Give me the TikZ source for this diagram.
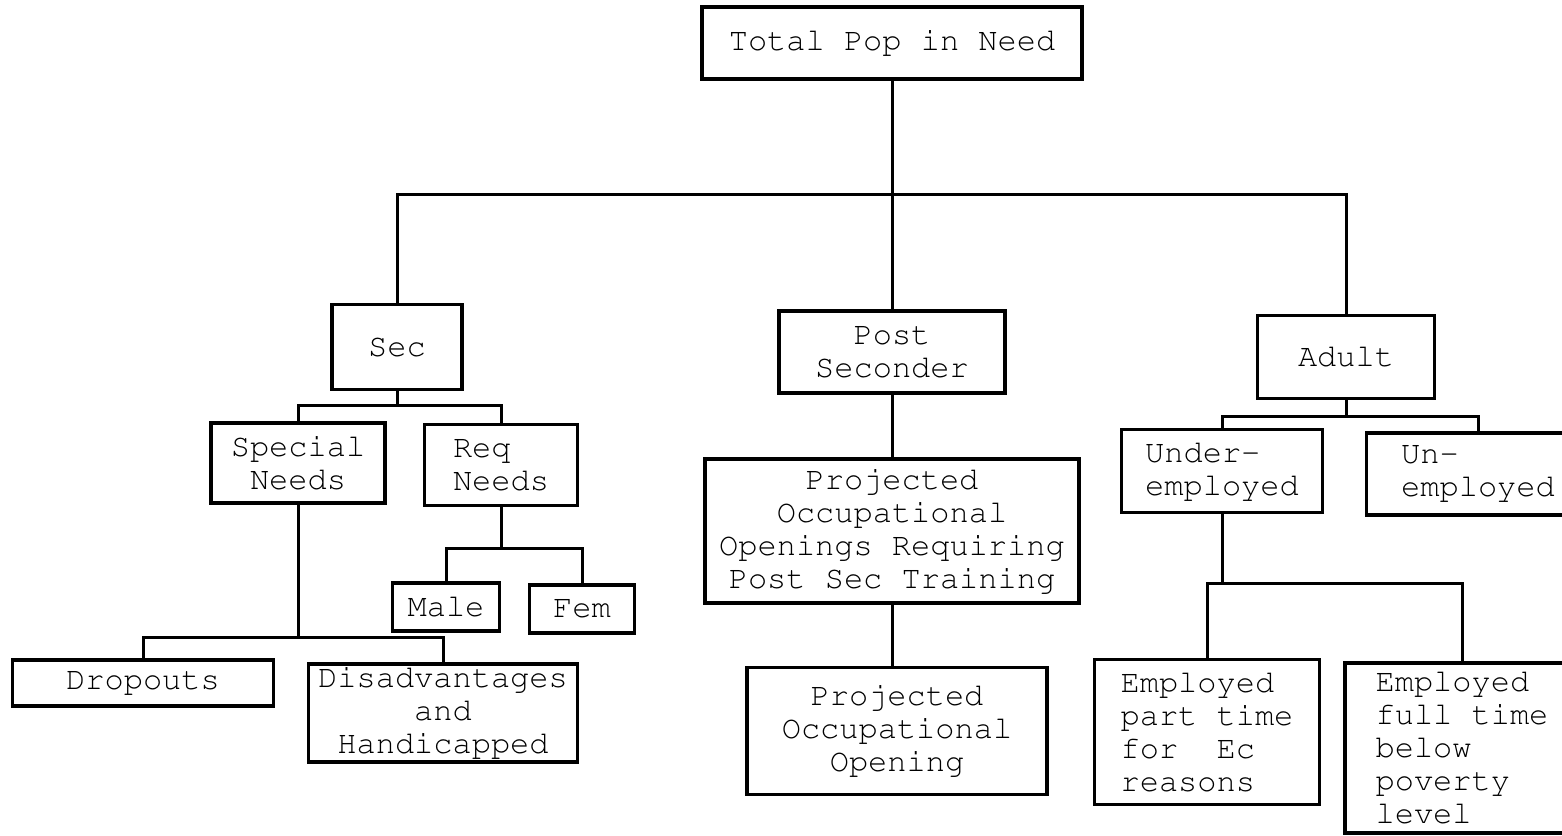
\documentclass[tikz,border=0pt]{standalone}
\usepackage[T1]{fontenc}
\usepackage{courier}

\begin{document}
\begin{tikzpicture} [x=1pt, y=-1pt,
	box/.style={draw, line width=3.4pt, inner sep=0pt, align=center,
		font=\ttfamily\fontsize{32}{33}\selectfont},
	link/.style={line width=3pt}]
	\useasboundingbox (0,0) rectangle (1562,835);
	%%%	Boxes
	\node[box, minimum width=380pt, minimum height=72pt] (total) at (892,43) {Total Pop in Need};
	\node[box, minimum width=130pt, minimum height=85pt] (sec) at (397,347) {Sec};
	\node[box, minimum width=226pt, minimum height=82pt] (post) at (892,352) {Post\\Seconder};
	\node[box, minimum width=177pt, minimum height=83pt] (adult) at (1346,357) {Adult};
	\node[box, minimum width=174pt, minimum height=80pt] (special) at (298,463) {Special\\Needs};
	\node[box, minimum width=153pt, minimum height=81pt, align=left] (req) at (501,465) {Req\\Needs};
	\node[box, minimum width=107pt, minimum height=48pt] (male) at (446,607) {Male};
	\node[box, minimum width=105pt, minimum height=48pt] (fem) at (582,609) {Fem};
	\node[box, minimum width=261pt, minimum height=46pt] (dropouts) at (143,683) {Dropouts};
	\node[box, minimum width=269pt, minimum height=98pt] (disadv) at (443,713) {Disadvantages\\and\\Handicapped};
	\node[box, minimum width=374pt, minimum height=144pt] (projreq) at (892,531) {Projected\\Occupational\\Openings Requiring\\Post Sec Training};
	\node[box, minimum width=300pt, minimum height=127pt] (projopen) at (897,731) {Projected\\Occupational\\Opening};
	\node[box, minimum width=201pt, minimum height=83pt, align=left] (under) at (1222,471) {Under-\\employed};
	\node[box, minimum width=223pt, minimum height=82pt, align=left] (unemp) at (1478,474) {Un-\\employed};
	\node[box, minimum width=225pt, minimum height=145pt, align=left] (parttime) at (1207,732) {Employed\\part time\\for\ \ Ec\\reasons};
	\node[box, minimum width=234pt, minimum height=170pt, align=left] (fulltime) at (1462,748) {Employed\\full time\\below\\poverty\\level};
	%%%	Bars
	\coordinate (topbar) at (892,194);
	\coordinate (secbar) at (397,405);
	\coordinate (reqbar) at (501,548);
	\coordinate (specbar) at (298,637);
	\coordinate (adultbar) at (1346,416);
	\coordinate (underbar) at (1222,583);
	%%%	Lines
	\draw[link] (total) -- (post);
	\draw[link] (sec.north) |- (topbar) -| (adult.north);
	\draw[link] (sec) -- (secbar);
	\draw[link] (special.north) |- (secbar) -| (req.north);
	\draw[link] (req) -- (reqbar);
	\draw[link] (male.north) |- (reqbar) -| (fem.north);
	\draw[link] (special) -- (specbar);
	\draw[link] (dropouts.north) |- (specbar) -| (disadv.north);
	\draw[link] (post) -- (projreq);
	\draw[link] (projreq.south) -- (projreq.south |- projopen.north);
	\draw[link] (adult) -- (adultbar);
	\draw[link] (under.north) |- (adultbar) -| (unemp.north);
	\draw[link] (under) -- (underbar);
	\draw[link] (parttime.north) |- (underbar) -| (fulltime.north);
\end{tikzpicture}
\end{document}
